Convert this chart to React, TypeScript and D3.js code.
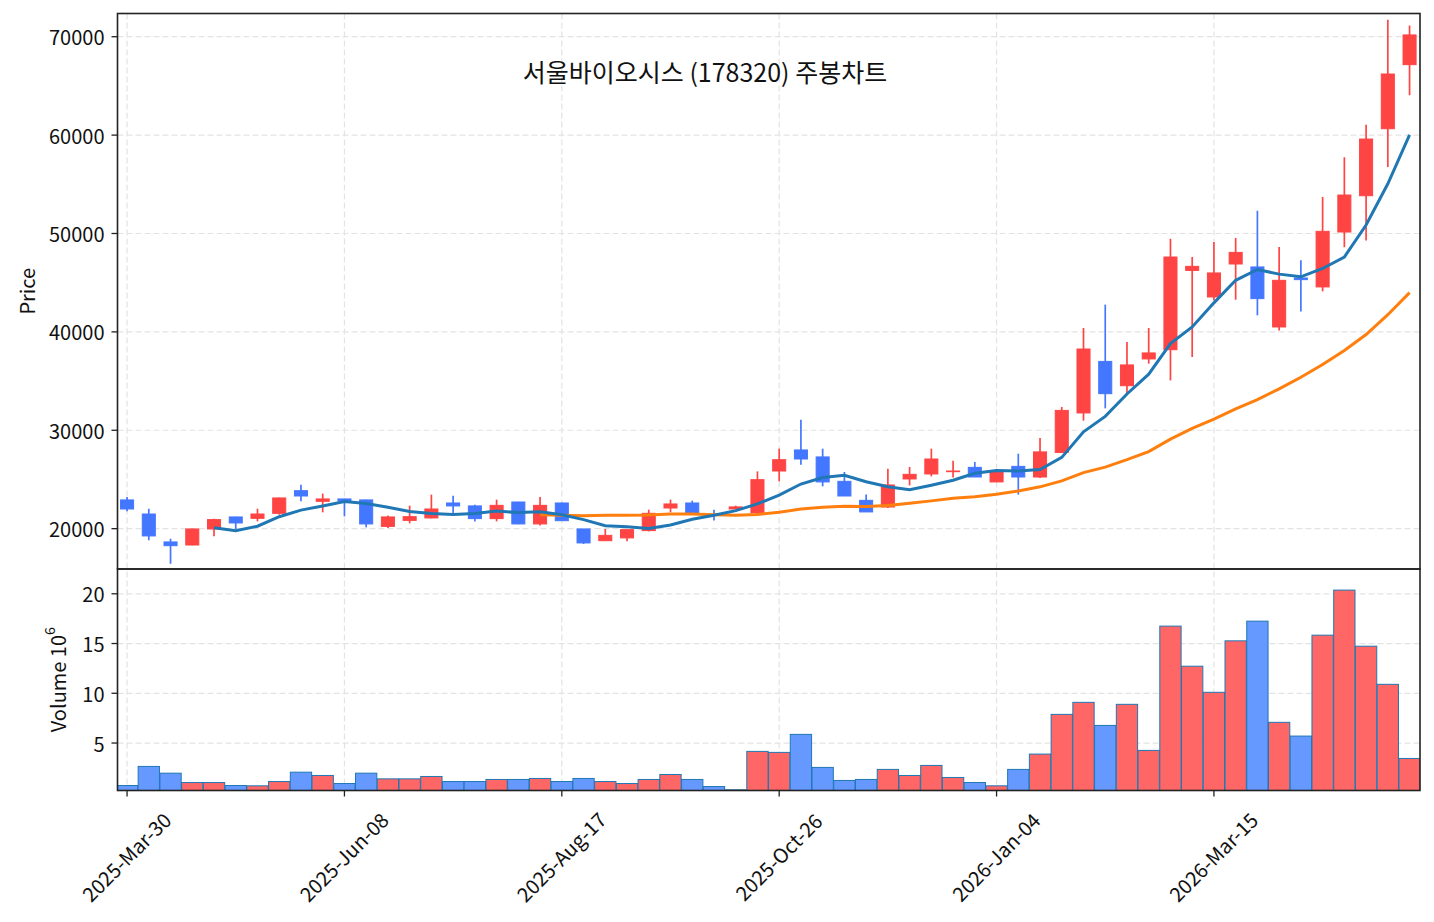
import * as d3 from 'd3'

// weekly candles, 2025-03-30 .. 2026-05-17
const opens = [22920, 21490, 18650, 18340, 19970, 21190, 21050, 21560, 23860, 22780,
  23020, 22920, 20230, 20840, 21090, 22610, 22310, 21020, 22710, 20480,
  22610, 19970, 18780, 19060, 19800, 22100, 22610, 21410, 22000, 21600,
  25860, 28000, 27290, 24810, 22880, 22200, 25050, 25560, 25790, 26230,
  24750, 26330, 25250, 27750, 31760, 37000, 34530, 37250, 38190, 46250,
  43550, 46900, 46600, 40500, 45480, 44570, 50150, 53840, 60650, 67160]
const highs = [23220, 22030, 18980, 19990, 21020, 21220, 22030, 23150, 24470, 23560,
  23050, 22950, 21350, 22340, 23460, 23350, 22440, 22950, 22730, 23220,
  22650, 19970, 19970, 19900, 21930, 22950, 22850, 21930, 22340, 25820,
  28130, 31080, 28130, 25760, 23460, 26100, 26270, 28130, 26910, 26780,
  26000, 27620, 29220, 32370, 40400, 42770, 38980, 40400, 49470, 47610,
  49140, 49540, 52320, 48630, 47270, 53710, 57740, 61060, 71730, 71150]
const lows = [21760, 18810, 16440, 18320, 19220, 19970, 20740, 21420, 22780, 21660,
  21250, 20130, 20070, 20540, 21050, 21600, 20740, 20740, 20450, 20310,
  20780, 18450, 18780, 18710, 19730, 21660, 21490, 20840, 22000, 21500,
  24810, 26500, 24300, 23320, 21700, 22100, 24400, 25320, 25210, 25250,
  24750, 23460, 25150, 27700, 30980, 32230, 33790, 36770, 35070, 37450,
  43200, 43270, 41680, 40150, 42080, 44120, 48590, 49300, 56760, 64040]
const closes = [22000, 19260, 18270, 19970, 20920, 20580, 21490, 23120, 23320, 23020,
  22820, 20480, 21190, 21220, 22000, 22310, 21020, 22370, 20480, 22370,
  20810, 18550, 19320, 19900, 21560, 22510, 21490, 21400, 22210, 24980,
  27010, 27080, 24750, 23320, 21700, 24440, 25520, 27080, 25860, 25250,
  25890, 25250, 27800, 32020, 38260, 33720, 36640, 37860, 47610, 46660,
  45990, 48080, 43380, 45240, 45310, 50220, 53910, 59600, 66210, 70180]
// volume in millions of shares
const volumes = [0.73, 2.65, 1.97, 1.03, 1.03, 0.73, 0.7, 1.13, 2.07, 1.74,
  0.93, 1.97, 1.4, 1.4, 1.64, 1.13, 1.13, 1.34, 1.34, 1.44,
  1.13, 1.44, 1.13, 0.93, 1.34, 1.84, 1.34, 0.63, 0.3, 4.16,
  4.06, 5.87, 2.55, 1.24, 1.34, 2.35, 1.74, 2.75, 1.54, 1.03,
  0.7, 2.35, 3.89, 7.88, 9.09, 6.77, 8.89, 4.26, 16.75, 12.72,
  10.1, 15.27, 17.25, 7.08, 5.7, 15.84, 20.37, 14.73, 10.9, 3.45]

const xTickIdx = [0, 10, 20, 30, 40, 50]
const xTickLabels = ['2025-Mar-30', '2025-Jun-08', '2025-Aug-17', '2025-Oct-26', '2026-Jan-04', '2026-Mar-15']
const priceTicks = [20000, 30000, 40000, 50000, 60000, 70000]
const volTicks = [5, 10, 15, 20]

const TITLE = '서울바이오시스 (178320) 주봉차트'
const FONT = '"Noto Sans CJK KR", "Noto Sans", sans-serif'

const UP = '#ff4444'
const DOWN = '#4477ff'
const VOL_UP = '#ff6666'
const VOL_DOWN = '#6699ff'

// simple moving average of closes, null until the window is full
function movingAvg(values, n) {
  return values.map((_, i) => (i < n - 1 ? null : d3.mean(values.slice(i - n + 1, i + 1))))
}

export default function App() {
  const width = 1434
  const height = 922
  const left = 117.5
  const right = 1420
  const pTop = 13.5
  const pBot = 569
  const vTop = 569
  const vBot = 790.5

  const x = d3.scaleLinear().domain([-0.44, 59.48]).range([left, right])
  const yP = d3.scaleLinear().domain([15900, 72360]).range([pBot, pTop])
  const yV = d3.scaleLinear().domain([0.23, 22.49]).range([vBot, vTop])

  const step = x(1) - x(0)
  const bodyW = step * 0.6
  const barW = step * 0.98

  const ma5 = movingAvg(closes, 5)
  const ma20 = movingAvg(closes, 20)

  const line = d3.line()
    .defined(d => d[1] != null)
    .x(d => x(d[0]))
    .y(d => yP(d[1]))

  const grid = { stroke: '#e3e3e3', strokeWidth: 1.2, strokeDasharray: '6,3' }
  const tickFs = 20

  return (
    <div style={{ position: 'absolute', left: 0, top: 0 }}>
      <svg width={width} height={height} style={{ display: 'block', background: '#fff' }} fontFamily={FONT}>
        <defs>
          <clipPath id="clip-price">
            <rect x={left} y={pTop} width={right - left} height={pBot - pTop} />
          </clipPath>
          <clipPath id="clip-vol">
            <rect x={left} y={vTop} width={right - left} height={vBot - vTop} />
          </clipPath>
        </defs>

        {/* grid */}
        {xTickIdx.map(i => (
          <line key={`gx-${i}`} x1={x(i)} x2={x(i)} y1={pTop} y2={vBot} {...grid} />
        ))}
        {priceTicks.map(t => (
          <line key={`gp-${t}`} x1={left} x2={right} y1={yP(t)} y2={yP(t)} {...grid} />
        ))}
        {volTicks.map(t => (
          <line key={`gv-${t}`} x1={left} x2={right} y1={yV(t)} y2={yV(t)} {...grid} />
        ))}

        {/* candles */}
        <g clipPath="url(#clip-price)">
          {opens.map((o, i) => {
            const c = closes[i]
            const color = c >= o ? UP : DOWN
            const top = yP(Math.max(o, c))
            const h = yP(Math.min(o, c)) - top
            return (
              <g key={`c-${i}`}>
                <line x1={x(i)} x2={x(i)} y1={yP(highs[i])} y2={yP(lows[i])} stroke={color} strokeWidth={1.7} />
                {h > 0.3 && (
                  <rect x={x(i) - bodyW / 2} y={top} width={bodyW} height={h}
                    fill={color} stroke={color} strokeWidth={1} />
                )}
              </g>
            )
          })}
          <path d={line(ma20.map((v, i) => [i, v]))} fill="none" stroke="#ff7f0e" strokeWidth={3} />
          <path d={line(ma5.map((v, i) => [i, v]))} fill="none" stroke="#1f77b4" strokeWidth={3} />
        </g>

        {/* volume */}
        <g clipPath="url(#clip-vol)">
          {volumes.map((v, i) => (
            <rect key={`v-${i}`} x={x(i) - barW / 2} y={yV(v)} width={barW} height={vBot - yV(v) + 2}
              fill={closes[i] >= opens[i] ? VOL_UP : VOL_DOWN} stroke="#1f77b4" strokeWidth={1} />
          ))}
        </g>

        {/* frames */}
        <rect x={left} y={pTop} width={right - left} height={pBot - pTop} fill="none" stroke="#222" strokeWidth={1.6} />
        <rect x={left} y={vTop} width={right - left} height={vBot - vTop} fill="none" stroke="#222" strokeWidth={1.6} />

        {/* y ticks */}
        {priceTicks.map(t => (
          <g key={`tp-${t}`}>
            <line x1={left - 6} x2={left} y1={yP(t)} y2={yP(t)} stroke="#222" strokeWidth={1.3} />
            <text x={left - 13} y={yP(t)} textAnchor="end" dominantBaseline="central" fontSize={tickFs} fill="#111">{t}</text>
          </g>
        ))}
        {volTicks.map(t => (
          <g key={`tv-${t}`}>
            <line x1={left - 6} x2={left} y1={yV(t)} y2={yV(t)} stroke="#222" strokeWidth={1.3} />
            <text x={left - 13} y={yV(t)} textAnchor="end" dominantBaseline="central" fontSize={tickFs} fill="#111">{t}</text>
          </g>
        ))}

        {/* x ticks */}
        {xTickIdx.map((i, k) => (
          <g key={`tx-${i}`}>
            <line x1={x(i)} x2={x(i)} y1={vBot} y2={vBot + 6} stroke="#222" strokeWidth={1.3} />
            <text transform={`translate(${x(i) - 1},${vBot + 66}) rotate(-45)`} textAnchor="middle"
              dominantBaseline="central" fontSize={tickFs} fill="#111">{xTickLabels[k]}</text>
          </g>
        ))}

        {/* axis labels */}
        <text transform={`translate(26,${(pTop + pBot) / 2}) rotate(-90)`} textAnchor="middle"
          dominantBaseline="central" fontSize={20} fill="#111">Price</text>
        <text transform={`translate(57,${(vTop + vBot) / 2}) rotate(-90)`} textAnchor="middle"
          dominantBaseline="central" fontSize={20} fill="#111">
          Volume  10<tspan fontSize={14} dy={-8}>6</tspan>
        </text>

        {/* title */}
        <text x={705} y={82} textAnchor="middle" fontSize={25} fill="#111">{TITLE}</text>
      </svg>
    </div>
  )
}
